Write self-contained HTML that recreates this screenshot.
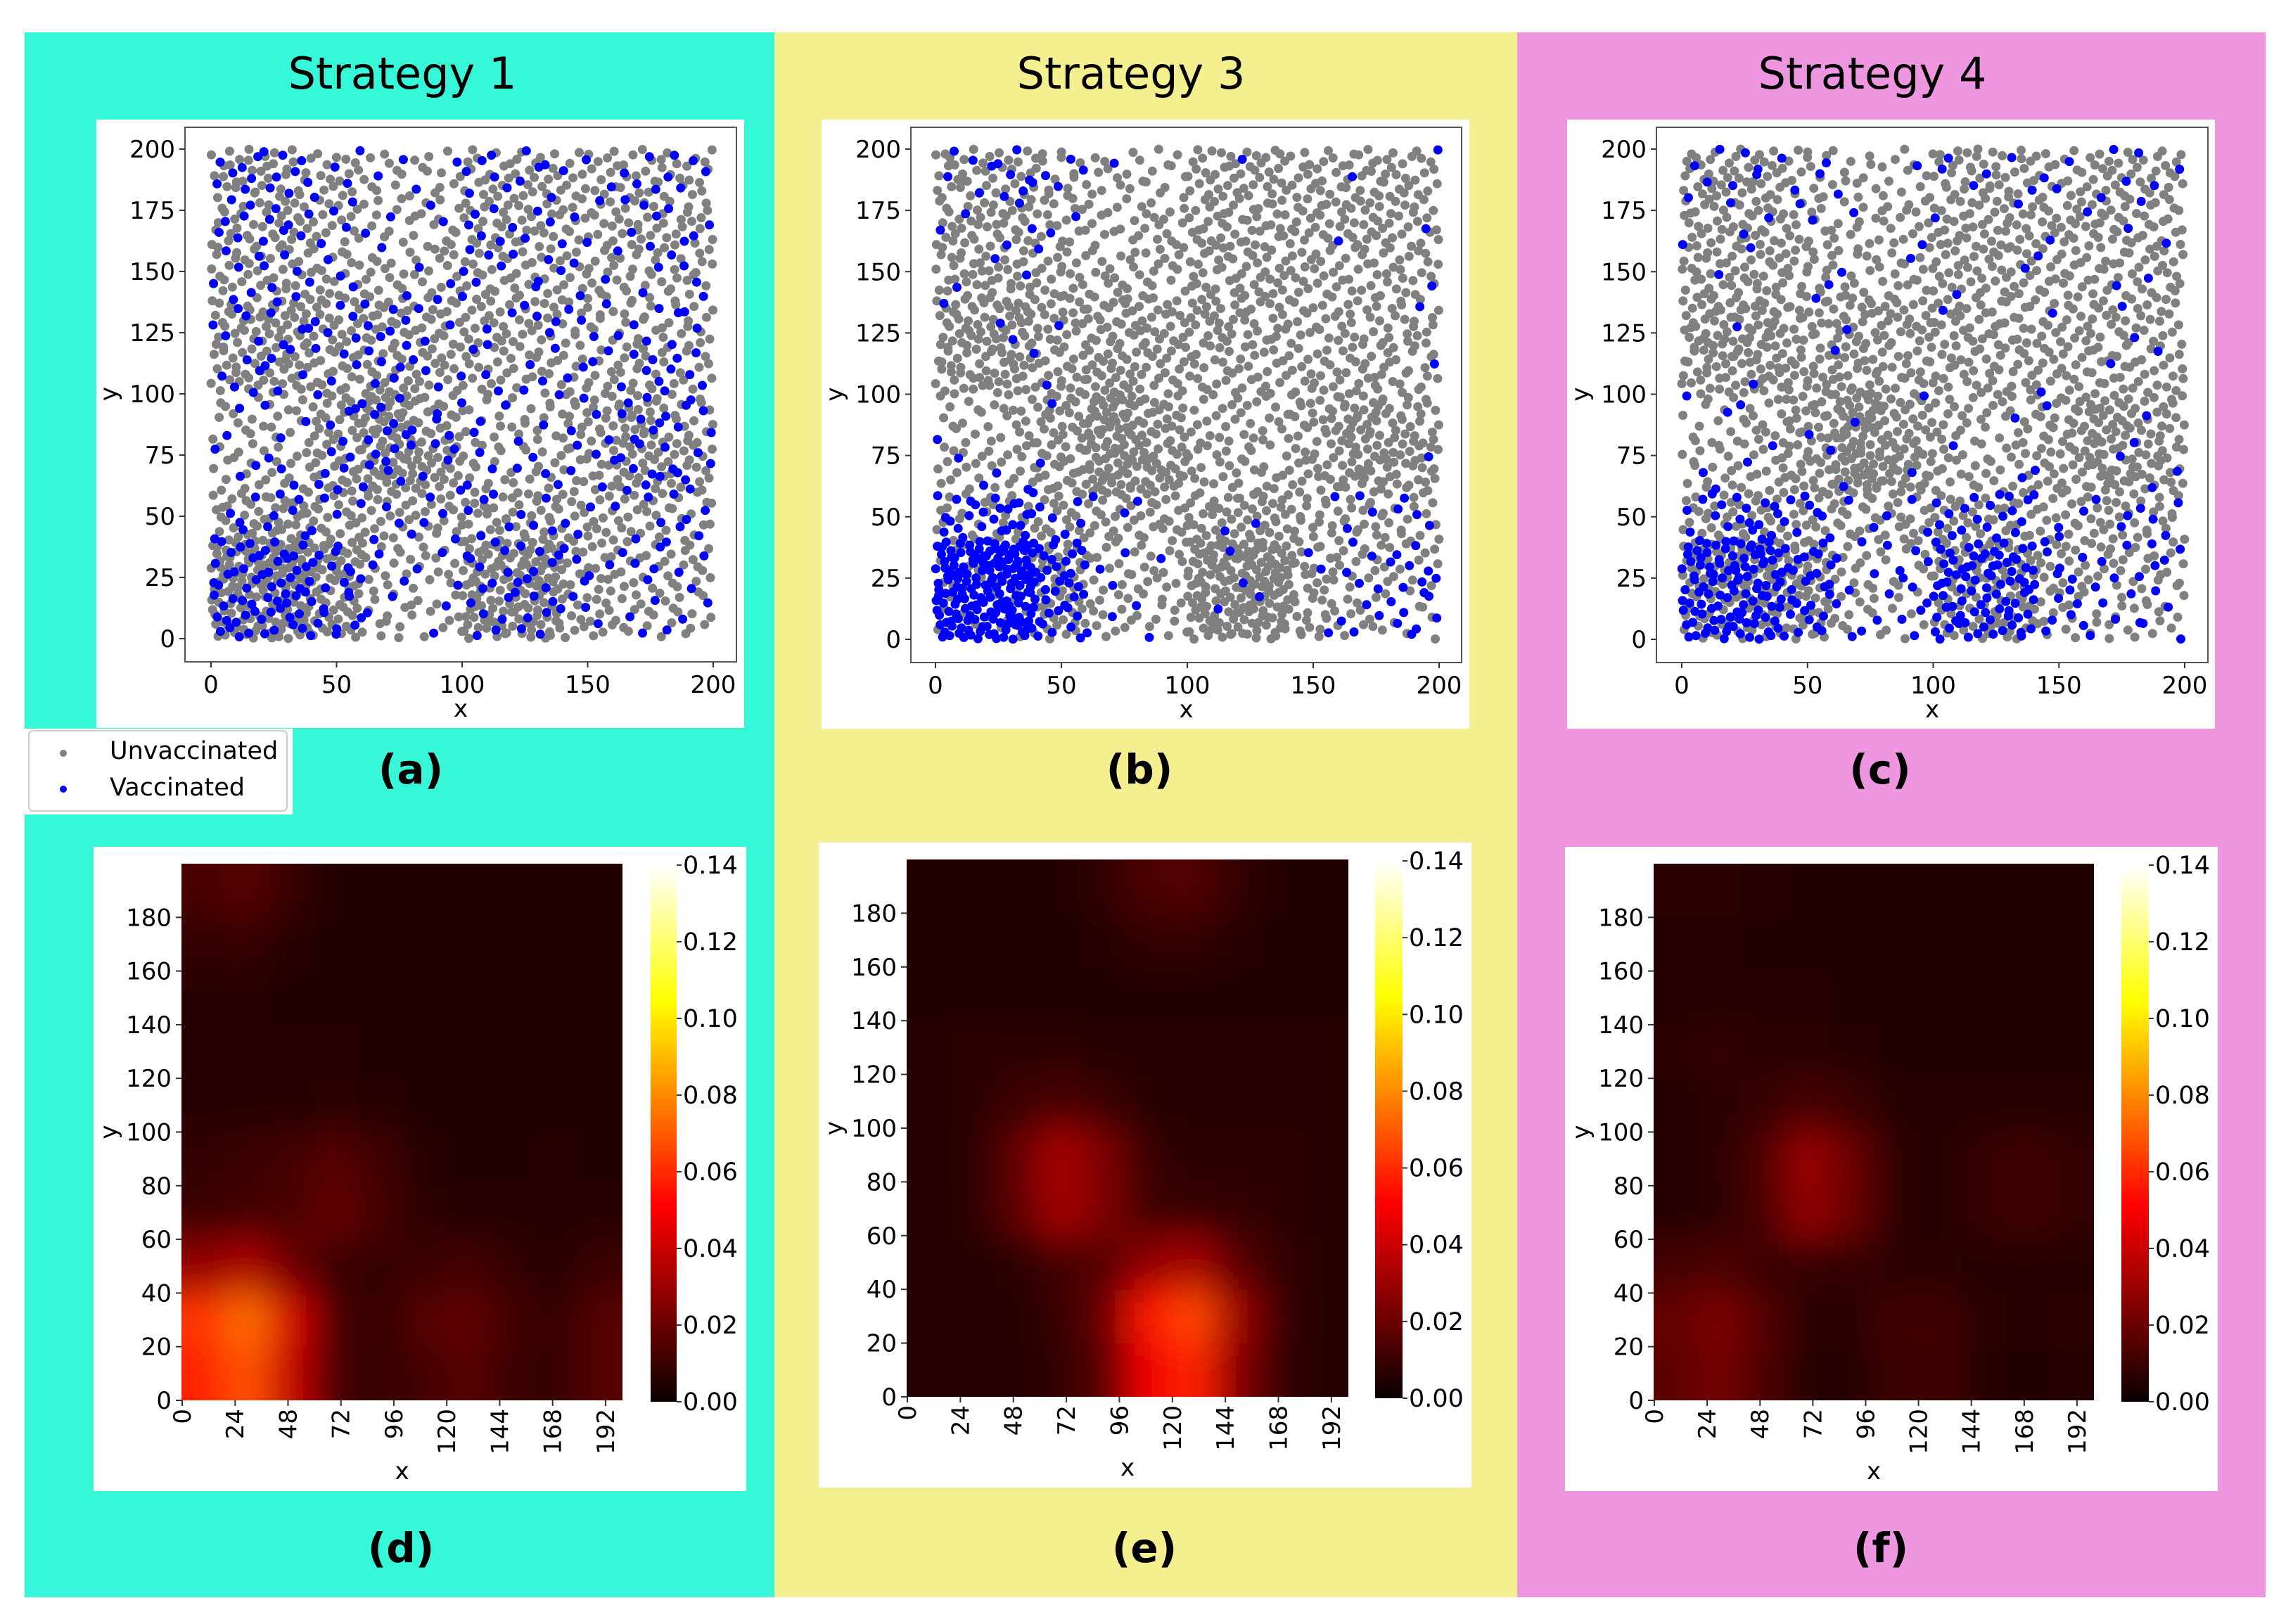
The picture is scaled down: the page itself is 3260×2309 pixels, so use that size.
<!DOCTYPE html>
<html><head><meta charset="utf-8"><style>
html,body{margin:0;padding:0;background:#fff;}
svg{display:block;}
text{font-family:"DejaVu Sans","Liberation Sans",sans-serif;}
</style></head><body>
<svg id="fig" xmlns="http://www.w3.org/2000/svg" width="3260" height="2309" viewBox="0 0 3260 2309">
<defs>
<linearGradient id="hotgrad" x1="0" y1="1" x2="0" y2="0">
<stop offset="0" stop-color="#0b0000"/><stop offset="0.365" stop-color="#ff0000"/><stop offset="0.746" stop-color="#ffff00"/><stop offset="1" stop-color="#ffffff"/>
</linearGradient>
</defs>
<rect x="35" y="46" width="1066" height="2225" fill="#37f7d9"/>
<rect x="1101" y="46" width="1056" height="2225" fill="#f5f08f"/>
<rect x="2157" y="46" width="1064" height="2225" fill="#ef96e1"/>
<g id="root"></g>
</svg>
<script>
// ---------- data ----------
const xTicks = [0, 50, 100, 150, 200];
const yTicks = [0, 25, 50, 75, 100, 125, 150, 175, 200];
const strategyTitles = ["Strategy 1", "Strategy 3", "Strategy 4"];
const scatterLabels = ["(a)", "(b)", "(c)"];
const heatLabels = ["(d)", "(e)", "(f)"];
// total agents per 20x20 bin (rows from y=0 upward, cols from x=0)
const density = [
 [45,50,35,15,12,35,40,20,15,15],
 [50,55,40,15,15,40,45,22,18,18],
 [25,30,22,20,20,25,25,18,20,18],
 [15,15,25,40,30,15,15,20,30,25],
 [12,15,25,40,25,15,15,22,30,22],
 [25,28,22,25,20,18,18,18,20,18],
 [28,30,22,25,22,22,20,18,18,18],
 [22,22,18,15,15,20,20,18,18,18],
 [22,25,18,12,15,22,22,20,22,20],
 [25,25,18,12,12,22,22,18,22,20]];
const vaccA = [
 [14,16,10,2,2,6,8,3,3,3],
 [14,16,10,3,3,8,8,5,5,4],
 [5,6,4,4,4,5,4,3,4,5],
 [3,3,6,8,5,3,4,4,8,7],
 [2,3,5,8,5,3,3,4,7,6],
 [5,5,4,6,4,3,4,4,5,6],
 [6,6,5,6,4,4,4,4,4,5],
 [5,5,3,2,2,5,5,3,3,3],
 [6,7,4,2,2,5,5,3,5,4],
 [7,8,4,2,2,6,5,3,4,5]];
const vaccB = [
 [40,42,15,3,1,1,1,1,4,8],
 [42,48,18,3,1,1,1,2,5,8],
 [12,15,6,2,1,1,1,1,3,4],
 [2,2,1,0,0,0,0,0,0,1],
 [1,0,1,0,0,0,0,0,0,0],
 [0,1,1,0,0,0,0,0,0,1],
 [1,2,1,0,0,0,0,0,0,1],
 [1,2,1,0,0,0,0,0,0,1],
 [2,3,2,0,0,0,0,0,1,1],
 [4,8,4,1,0,0,1,0,1,1]];
const vaccC = [
 [25,25,12,4,5,18,20,6,4,5],
 [25,28,15,4,6,20,22,8,4,5],
 [8,12,8,2,3,8,10,4,3,4],
 [2,2,1,1,1,1,1,1,1,2],
 [2,1,1,1,1,0,1,1,1,1],
 [0,1,0,1,0,0,0,1,1,1],
 [0,1,1,1,0,1,0,1,1,1],
 [1,1,1,1,1,1,1,1,1,1],
 [2,2,2,1,1,1,1,1,2,2],
 [4,5,3,1,1,3,3,3,3,3]];
// infection heatmap values per 20x20 block (rows from y=0 upward)
const heatD = [
 [.058,.068,.038,.012,.008,.012,.016,.010,.008,.016],
 [.062,.074,.042,.012,.008,.016,.018,.012,.008,.016],
 [.028,.034,.020,.010,.008,.010,.012,.008,.006,.010],
 [.010,.012,.013,.019,.012,.007,.006,.006,.006,.006],
 [.008,.010,.012,.016,.011,.006,.005,.005,.006,.005],
 [.006,.006,.006,.007,.006,.005,.005,.005,.005,.005],
 [.006,.006,.006,.006,.005,.005,.005,.005,.005,.005],
 [.006,.006,.005,.005,.005,.005,.005,.005,.005,.005],
 [.008,.009,.006,.005,.005,.005,.005,.005,.005,.005],
 [.013,.016,.009,.005,.005,.005,.005,.005,.005,.005]];
const heatE = [
 [.006,.006,.006,.008,.016,.048,.058,.025,.008,.006],
 [.006,.006,.006,.009,.020,.056,.066,.030,.009,.006],
 [.006,.006,.007,.012,.016,.028,.032,.016,.008,.006],
 [.006,.007,.017,.032,.024,.010,.009,.008,.007,.006],
 [.006,.007,.018,.033,.023,.009,.007,.007,.007,.006],
 [.006,.007,.010,.013,.010,.006,.006,.006,.006,.006],
 [.006,.007,.007,.007,.006,.006,.006,.006,.006,.006],
 [.005,.005,.005,.005,.005,.005,.005,.005,.005,.005],
 [.005,.005,.005,.005,.006,.008,.008,.006,.005,.005],
 [.005,.005,.005,.005,.008,.014,.015,.008,.005,.005]];
const heatF = [
 [.017,.022,.014,.006,.006,.010,.011,.006,.005,.006],
 [.019,.024,.015,.007,.007,.011,.011,.007,.006,.007],
 [.012,.014,.010,.008,.008,.007,.007,.006,.006,.006],
 [.006,.007,.013,.028,.020,.007,.006,.009,.011,.008],
 [.006,.007,.014,.030,.020,.007,.006,.009,.011,.008],
 [.006,.007,.009,.013,.010,.006,.006,.006,.006,.006],
 [.007,.008,.007,.007,.006,.005,.005,.005,.005,.005],
 [.006,.006,.006,.006,.005,.005,.005,.005,.005,.005],
 [.006,.006,.005,.005,.005,.005,.005,.005,.005,.005],
 [.007,.007,.006,.005,.005,.005,.005,.005,.005,.005]];
const heatXTicks = [0, 24, 48, 72, 96, 120, 144, 168, 192];
const heatYTicks = [0, 20, 40, 60, 80, 100, 120, 140, 160, 180];
const cbarTicks = [0.00, 0.02, 0.04, 0.06, 0.08, 0.10, 0.12, 0.14];
const cbarMax = 0.14;

// ---------- layout ----------
const NS = "http://www.w3.org/2000/svg";
const root = document.getElementById("root");
function mk(tag, attrs, parent, txt) {
  const e = document.createElementNS(NS, tag);
  for (const k in attrs) e.setAttribute(k, attrs[k]);
  if (txt !== undefined) e.textContent = txt;
  (parent || root).appendChild(e);
  return e;
}
const scatterPanels = [
 {box:[137,170,1058,1035], ax:[263,181,1047,941], x0:300, x200:1014, title:572, lbl:584, vacc:vaccA},
 {box:[1168,170,2089,1036], ax:[1295,181,2078,942], x0:1330, x200:2046, title:1608, lbl:1620, vacc:vaccB},
 {box:[2228,170,3149,1036], ax:[2355,181,3139,942], x0:2391, x200:3106, title:2662, lbl:2673, vacc:vaccC}];
const heatPanels = [
 {box:[133,1204,1061,2120], hm:[258,1228,885,1991], cb:[925,962], lbl:570, data:heatD},
 {box:[1164,1198,2092,2115], hm:[1289,1222,1917,1986], cb:[1955,1994], lbl:1627, data:heatE},
 {box:[2225,1204,3153,2120], hm:[2351,1228,2977,1991], cb:[3016,3055], lbl:2674, data:heatF}];

function halton(i, b) { let f = 1, r = 0; while (i > 0) { f /= b; r += f * (i % b); i = Math.floor(i / b); } return r; }
function hot(v) {
  const t = Math.max(0, Math.min(1, v / cbarMax));
  const r = Math.min(1, 0.0416 + t / 0.365 * 0.9584);
  const g = Math.max(0, Math.min(1, (t - 0.365) / 0.381));
  const b = Math.max(0, Math.min(1, (t - 0.746) / 0.254));
  return `rgb(${Math.round(r*255)},${Math.round(g*255)},${Math.round(b*255)})`;
}

const lgBg = mk("rect", {x:35, y:1036, width:381, height:122, fill:"#fff"});



scatterPanels.forEach((p, pi) => {
  const g = mk("g", {});
  
  
  const t = mk("text", {x:p.title, y:126, "font-size":62, "text-anchor":"middle", fill:"#000"}, g, strategyTitles[pi]);
  
  
  const wb = mk("rect", {x:p.box[0], y:p.box[1], width:p.box[2]-p.box[0], height:p.box[3]-p.box[1], fill:"#fff"}, g);
  
  
  const sx = v => p.x0 + v * (p.x200 - p.x0) / 200;
  const y0 = p.ax[3] - 33, ys = (y0 - (p.ax[1] + 31)) / 200;
  const sy = v => y0 - v * ys;
  const gray = [], blue = [];
  for (let j = 0; j < 10; j++) for (let i = 0; i < 10; i++) {
    const tot = density[j][i], nb = Math.min(p.vacc[j][i], tot);
    for (let k = 0; k < tot; k++) {
      const idx = k + 1 + (j * 10 + i) * 61 + pi * 7;
      const px = Math.min(200, (i + halton(idx, 2)) * 20);
      const py = Math.min(200, (j + halton(idx, 3)) * 20);
      (k < nb ? blue : gray).push([px, py]);
    }
  }
  const pg = mk("g", {}, g);
  
  
  gray.forEach(d => {
    const c = mk("circle", {cx:sx(d[0]).toFixed(1), cy:sy(d[1]).toFixed(1), r:6.5, fill:"#808080"}, pg);
    
    
  });
  const bg2 = mk("g", {}, g);
  
  
  blue.forEach(d => {
    const c = mk("circle", {cx:sx(d[0]).toFixed(1), cy:sy(d[1]).toFixed(1), r:6.5, fill:"#0000ff"}, bg2);
    
    
  });
  const fr = mk("rect", {x:p.ax[0], y:p.ax[1], width:p.ax[2]-p.ax[0], height:p.ax[3]-p.ax[1], fill:"none", stroke:"#555", "stroke-width":2}, g);
  
  
  xTicks.forEach(v => {
    mk("line", {x1:sx(v), y1:p.ax[3], x2:sx(v), y2:p.ax[3]+8, stroke:"#333", "stroke-width":2}, g);
    const tl = mk("text", {x:sx(v), y:p.ax[3]+44, "font-size":34, "text-anchor":"middle"}, g, String(v));
    
    
  });
  yTicks.forEach(v => {
    mk("line", {x1:p.ax[0]-8, y1:sy(v), x2:p.ax[0], y2:sy(v), stroke:"#333", "stroke-width":2}, g);
    const tl = mk("text", {x:p.ax[0]-14, y:sy(v)+12, "font-size":34, "text-anchor":"end"}, g, String(v));
    
    
  });
  const xl = mk("text", {x:(p.ax[0]+p.ax[2])/2, y:p.ax[3]+78, "font-size":34, "text-anchor":"middle"}, g, "x");
  
  
  const yl = mk("text", {x:0, y:0, "font-size":34, "text-anchor":"middle", transform:`translate(${p.ax[0]-97},${sy(100)}) rotate(-90)`}, g, "y");
  
  
  const pl = mk("text", {x:p.lbl, y:1114, "font-size":58, "font-weight":"bold", "text-anchor":"middle"}, g, scatterLabels[pi]);
  
  
});

// legend
const lg = mk("g", {});


mk("rect", {x:41, y:1039, width:367, height:114, rx:6, fill:"#fff", stroke:"#ccc", "stroke-width":2}, lg);
const le1 = mk("circle", {cx:90, cy:1071, r:5, fill:"#808080"}, lg);


const lt1 = mk("text", {x:156, y:1079, "font-size":35}, lg, "Unvaccinated");


const le2 = mk("circle", {cx:90, cy:1122, r:5, fill:"#0000ff"}, lg);


const lt2 = mk("text", {x:156, y:1131, "font-size":35}, lg, "Vaccinated");



// heatmaps
const defs = document.querySelector("defs");
heatPanels.forEach((p, pi) => {
  const g = mk("g", {});
  
  
  const wb = mk("rect", {x:p.box[0], y:p.box[1], width:p.box[2]-p.box[0], height:p.box[3]-p.box[1], fill:"#fff"}, g);
  
  
  const [L, T, R, B] = p.hm;
  const cw = (R - L) / 200, ch = (B - T) / 200;
  const sx = v => L + v * cw, sy = v => B - v * ch;
  const f = mk("filter", {id:"blur"+pi, x:L-100, y:T-100, width:R-L+200, height:B-T+200, filterUnits:"userSpaceOnUse"}, defs);
  mk("feGaussianBlur", {stdDeviation:26}, f);
  const cp = mk("clipPath", {id:"clip"+pi}, defs);
  mk("rect", {x:L, y:T, width:R-L, height:B-T}, cp);
  const outer = mk("g", {"clip-path":`url(#clip${pi})`}, g);
  mk("rect", {x:L, y:T, width:R-L, height:B-T, fill:hot(0.005)}, outer);
  const hg = mk("g", {filter:`url(#blur${pi})`}, outer);
  
  
  p.data.forEach((row, j) => row.forEach((v, i) => {
    // extend edge cells outward so blur does not darken borders
    let x = sx(i*20), w = 20*cw, y = sy((j+1)*20), h = 20*ch;
    if (i === 0) { x -= 100; w += 100; }
    if (i === 9) { w += 100; }
    if (j === 9) { y -= 100; h += 100; }
    if (j === 0) { h += 100; }
    const c = mk("rect", {x:x-0.5, y:y-0.5, width:w+1, height:h+1, fill:hot(v)}, hg);
    
    
  }));
  heatYTicks.forEach(v => {
    mk("line", {x1:L-8, y1:sy(v), x2:L, y2:sy(v), stroke:"#333", "stroke-width":2}, g);
    const tl = mk("text", {x:L-14, y:sy(v)+12, "font-size":34, "text-anchor":"end"}, g, String(v));
    
    
  });
  heatXTicks.forEach(v => {
    const xx = sx(v) + 1;
    mk("line", {x1:xx, y1:B, x2:xx, y2:B+8, stroke:"#333", "stroke-width":2}, g);
    const tl = mk("text", {x:0, y:0, "font-size":34, "text-anchor":"end", transform:`translate(${xx+12},${B+12}) rotate(-90)`}, g, String(v));
    
    
  });
  const xl = mk("text", {x:(L+R)/2, y:B+112, "font-size":34, "text-anchor":"middle"}, g, "x");
  
  
  const yl = mk("text", {x:0, y:0, "font-size":34, "text-anchor":"middle", transform:`translate(${L-92},${sy(100)}) rotate(-90)`}, g, "y");
  
  
  const cb = mk("rect", {x:p.cb[0], y:T+2, width:p.cb[1]-p.cb[0], height:B-T, fill:"url(#hotgrad)"}, g);
  
  
  const cy = v => B + 2 - v / cbarMax * (B - T);
  cbarTicks.forEach(v => {
    mk("line", {x1:p.cb[1], y1:cy(v), x2:p.cb[1]+7, y2:cy(v), stroke:"#333", "stroke-width":2}, g);
    const tl = mk("text", {x:p.cb[1]+9, y:cy(v)+12, "font-size":35}, g, v.toFixed(2));
    
    
  });
  const pl = mk("text", {x:p.lbl, y:2221, "font-size":58, "font-weight":"bold", "text-anchor":"middle"}, g, heatLabels[pi]);
  
  
});
</script>
</body></html>
